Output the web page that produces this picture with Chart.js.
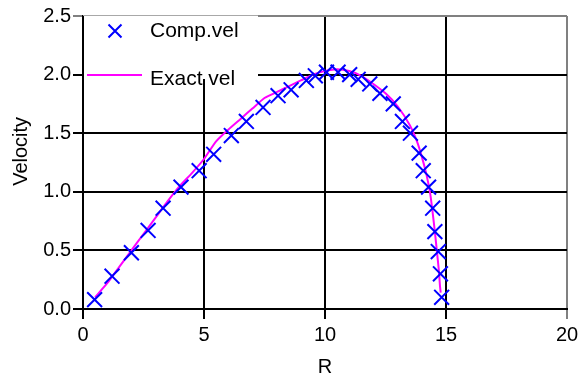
<!DOCTYPE html>
<html>
<head>
<meta charset="utf-8">
<script src="https://cdn.jsdelivr.net/npm/chart.js@4/dist/chart.umd.min.js"></script>
<style>
  html, body { margin: 0; padding: 0; background: #fff; }
  #chartBox { width: 584px; height: 379px; }
</style>
</head>
<body>
<div id="chartBox"><canvas id="myChart" width="584" height="379"></canvas></div>
<script>
// computed velocity (crosses)
const compR = [0.48, 1.2, 2.0, 2.69, 3.31, 4.05, 4.8, 5.4, 6.13, 6.75, 7.44, 8.06, 8.6, 9.23, 9.6, 10.06,
  10.54, 11.02, 11.37, 11.85, 12.27, 12.82, 13.2, 13.53, 13.89, 14.06, 14.28, 14.45, 14.54, 14.68, 14.77, 14.82];
const compVel = [0.08, 0.28, 0.48, 0.67, 0.86, 1.04, 1.18, 1.32, 1.48, 1.6, 1.72, 1.82, 1.87, 1.95, 1.99, 2.02,
  2.02, 2.0, 1.96, 1.92, 1.84, 1.75, 1.6, 1.5, 1.33, 1.18, 1.04, 0.86, 0.66, 0.49, 0.3, 0.1];

// exact velocity (magenta curve)
const exactR = [0.5, 1.0, 1.5, 2.0, 2.5, 3.0, 3.5, 4.0, 4.5, 5.0, 5.5, 6.0, 6.5, 7.0, 7.5, 8.0, 8.5, 9.0, 9.5,
  10.0, 10.5, 11.0, 11.5, 12.0, 12.5, 13.0, 13.5, 13.8, 14.0, 14.2, 14.35, 14.45, 14.55, 14.62, 14.7, 14.75, 14.78];
const exactVel = [0.1, 0.22, 0.36, 0.5, 0.64, 0.78, 0.92, 1.05, 1.16, 1.28, 1.43, 1.53, 1.62, 1.71, 1.8, 1.85, 1.9, 1.95, 2.0,
  2.03, 2.045, 2.03, 1.99, 1.92, 1.84, 1.73, 1.57, 1.43, 1.3, 1.14, 0.98, 0.82, 0.64, 0.5, 0.34, 0.2, 0.14];

const seriesNames = ['Comp.vel', 'Exact vel'];
const xTickValues = [0, 5, 10, 15, 20];
const yTickValues = [0, 0.5, 1.0, 1.5, 2.0, 2.5];

document.addEventListener('DOMContentLoaded', function() {
  const FONT = '"Liberation Sans", Arial, sans-serif';

  function toPoints(xs, ys) {
    return xs.map((x, i) => ({ x: x, y: ys[i] }));
  }

  // legend box drawn inside the plot, top left, over the grid
  const boxLegend = {
    id: 'boxLegend',
    beforeDatasetsDraw(chart) {
      const ctx = chart.ctx;
      const area = chart.chartArea;
      const ds = chart.data.datasets;
      ctx.save();
      ctx.fillStyle = '#fff';
      ctx.fillRect(area.left + 1, area.top - 1, 174, 64);
      ctx.strokeStyle = '#a8a8a8';
      ctx.lineWidth = 1;
      ctx.beginPath();
      ctx.moveTo(area.left, area.top - 0.5);
      ctx.lineTo(area.left + 175, area.top - 0.5);
      ctx.stroke();

      // cross marker
      const mx = 115, my = 31, h = 6.5;
      ctx.strokeStyle = ds[0].borderColor;
      ctx.lineWidth = 2;
      ctx.beginPath();
      ctx.moveTo(mx - h, my - h); ctx.lineTo(mx + h, my + h);
      ctx.moveTo(mx + h, my - h); ctx.lineTo(mx - h, my + h);
      ctx.stroke();

      // line sample
      ctx.strokeStyle = ds[1].borderColor;
      ctx.beginPath();
      ctx.moveTo(87, 75); ctx.lineTo(142, 75);
      ctx.stroke();

      ctx.fillStyle = '#000';
      ctx.font = '21px ' + FONT;
      ctx.textBaseline = 'alphabetic';
      ctx.fillText(ds[0].label, 150, 37);
      ctx.fillText(ds[1].label, 150, 85);
      ctx.restore();
    }
  };

  const ctx = document.getElementById('myChart').getContext('2d');
  new Chart(ctx, {
    type: 'scatter',
    data: {
      datasets: [{
        label: seriesNames[0],
        data: toPoints(compR, compVel),
        showLine: false,
        pointStyle: 'crossRot',
        pointRadius: 10.5,
        pointBorderWidth: 2,
        borderColor: '#0000ff',
        backgroundColor: '#0000ff'
      }, {
        label: seriesNames[1],
        data: toPoints(exactR, exactVel),
        showLine: true,
        pointRadius: 0,
        borderWidth: 2,
        tension: 0.2,
        borderColor: '#ff00ff',
        backgroundColor: '#ff00ff'
      }]
    },
    options: {
      responsive: false,
      animation: false,
      devicePixelRatio: 1,
      layout: { padding: { top: 16, right: 17, bottom: 0, left: 0 } },
      plugins: { legend: { display: false }, tooltip: { enabled: false } },
      scales: {
        x: {
          type: 'linear',
          min: 0,
          max: 20,
          afterBuildTicks: s => { s.ticks = xTickValues.map(v => ({ value: v })); },
          afterFit: s => { s.height = 70; },
          grid: {
            color: c => (c.tick && c.tick.value === 20) ? '#808080' : '#000',
            lineWidth: 2,
            tickLength: 10
          },
          border: { display: true, color: '#000', width: 2 },
          ticks: { color: '#000', padding: 4, font: { family: FONT, size: 20 } },
          title: { display: true, text: 'R', color: '#000', padding: { top: 0, bottom: 0 }, font: { family: FONT, size: 20 } }
        },
        y: {
          min: 0,
          max: 2.5,
          afterBuildTicks: s => { s.ticks = yTickValues.map(v => ({ value: v })); },
          afterFit: s => { s.width = 83; },
          grid: {
            color: c => (c.tick && c.tick.value === 2.5) ? '#808080' : '#000',
            lineWidth: 2,
            tickLength: 10
          },
          border: { display: true, color: '#000', width: 2 },
          ticks: { color: '#000', padding: 2, font: { family: FONT, size: 20 }, callback: v => Number(v).toFixed(1) },
          // leading spaces lift the rotated title a little, as in the original
          title: { display: true, text: '    Velocity', color: '#000', padding: { top: 9, bottom: 0 }, font: { family: FONT, size: 20 } }
        }
      }
    },
    plugins: [boxLegend]
  });
});
</script>
</body>
</html>
